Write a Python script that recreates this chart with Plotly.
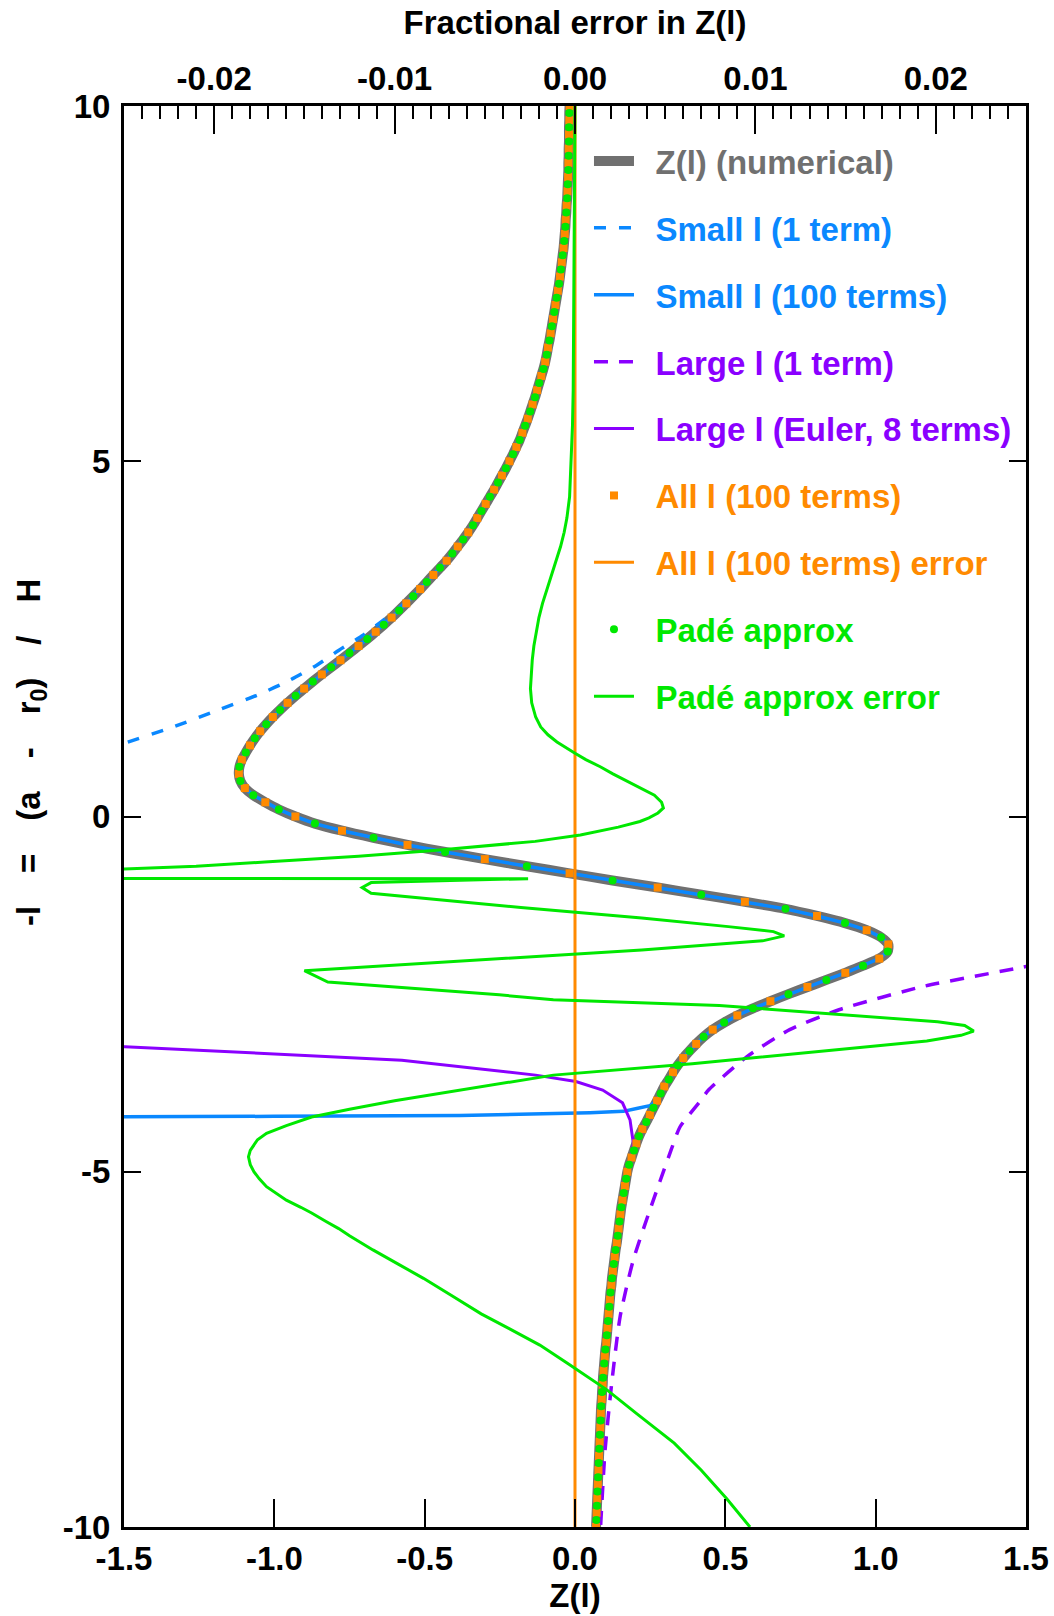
import numpy as np
import plotly.graph_objects as go

# ---------------- data ----------------
# l grid (independent variable, -l on the vertical axis), step 0.1 from 10 to -10
l_grid = np.round(np.arange(100, -101, -1) / 10.0, 1)

# Z(l) numerical at each l of l_grid
z_num = [
    -0.018, -0.019, -0.019, -0.020, -0.020, -0.020, -0.021, -0.021, -0.022, -0.022,
    -0.023, -0.024, -0.025, -0.026, -0.028, -0.029, -0.031, -0.032, -0.034, -0.036,
    -0.038, -0.041, -0.044, -0.047, -0.050, -0.053, -0.057, -0.061, -0.065, -0.069,
    -0.073, -0.077, -0.081, -0.085, -0.090, -0.094, -0.099, -0.105, -0.112, -0.119,
    -0.126, -0.133, -0.141, -0.149, -0.157, -0.166, -0.175, -0.184, -0.195, -0.206,
    -0.218, -0.230, -0.243, -0.256, -0.269, -0.283, -0.297, -0.311, -0.325, -0.339,
    -0.355, -0.372, -0.390, -0.408, -0.427, -0.449, -0.471, -0.493, -0.515, -0.538,
    -0.561, -0.585, -0.610, -0.636, -0.663, -0.691, -0.720, -0.750, -0.780, -0.811,
    -0.842, -0.872, -0.901, -0.929, -0.956, -0.981, -1.005, -1.027, -1.047, -1.065,
    -1.081, -1.095, -1.108, -1.116, -1.118, -1.113, -1.098, -1.070, -1.030, -0.985,
    -0.930, -0.865, -0.775, -0.670, -0.557, -0.432, -0.300, -0.160, -0.018, 0.125,
    0.275, 0.420, 0.565, 0.700, 0.805, 0.898, 0.970, 1.018, 1.042, 1.040,
    1.012, 0.958, 0.899, 0.836, 0.773, 0.710, 0.650, 0.592, 0.540, 0.496,
    0.458, 0.428, 0.403, 0.381, 0.360, 0.342, 0.326, 0.312, 0.297, 0.285,
    0.273, 0.261, 0.249, 0.237, 0.224, 0.213, 0.204, 0.196, 0.188, 0.180,
    0.174, 0.170, 0.166, 0.162, 0.158, 0.154, 0.151, 0.148, 0.145, 0.142,
    0.139, 0.135, 0.132, 0.129, 0.126, 0.123, 0.121, 0.118, 0.116, 0.114,
    0.112, 0.110, 0.108, 0.106, 0.104, 0.101, 0.099, 0.097, 0.095, 0.093,
    0.092, 0.090, 0.089, 0.087, 0.086, 0.085, 0.084, 0.083, 0.082, 0.081,
    0.080, 0.079, 0.078, 0.077, 0.076, 0.075, 0.074, 0.073, 0.072, 0.071,
    0.070,
]
z_num = np.array(z_num)

# "All l (100 terms)" and "Pade approx" sampled on alternate grid points
l_all = l_grid[::2]
z_all = z_num[::2]
l_pade = l_grid[1::2]
z_pade = z_num[1::2]

# Small l (1 term) - departs from the curve near l = 3
l_small1 = [3.5, 3.3, 3.1, 2.9, 2.77, 2.55, 2.34, 2.13, 1.92, 1.72, 1.51, 1.27, 1.03, 0.8]
z_small1 = [-0.449, -0.495, -0.540, -0.595, -0.635, -0.705, -0.785, -0.859, -0.948, -1.05,
            -1.18, -1.33, -1.5, -1.66]

# Small l (100 terms) - follows the curve down to l = -4, then diverges
l_small100_tail = [-4.07, -4.11, -4.15, -4.17, -4.19, -4.21, -4.22, -4.23]
z_small100_tail = [0.249, 0.205, 0.161, 0.05, -0.116, -0.383, -1.0, -2.0]

# Large l (1 term)
l_large1 = [-2.0, -2.12, -2.39, -2.72, -3.0, -3.38, -3.85, -4.01, -4.37, -4.69,
            -5.54, -6.24, -7.04, -7.98, -8.92, -10.0]
z_large1 = [1.62, 1.49, 1.16, 0.878, 0.714, 0.572, 0.444, 0.416, 0.349, 0.32,
            0.249, 0.194, 0.150, 0.122, 0.100, 0.085]

# Large l (Euler, 8 terms) - diverges above l = -4.8
l_euler_head = [-3.15, -3.24, -3.43, -3.64, -3.73, -3.85, -4.03, -4.27, -4.60, -4.8]
z_euler_head = [-2.0, -1.497, -0.576, -0.131, 0.003, 0.092, 0.158, 0.183, 0.194, 0.188]

# All l (100 terms) fractional error
l_all_err = [10.0, -10.0]
e_all_err = [0.0, 0.0]

# Pade approx fractional error
l_pade_err = [10, 9, 8, 7, 6, 5.5, 5.0, 4.5, 4.2, 4.0,
              3.8, 3.6, 3.4, 3.2, 3.0, 2.8, 2.6, 2.4, 2.2, 2.0,
              1.8, 1.6, 1.4, 1.26, 1.15, 1.05, 0.95, 0.89, 0.8, 0.7,
              0.6, 0.51, 0.4, 0.3, 0.2, 0.12, 0.05, -0.02, -0.07, -0.15,
              -0.26, -0.35, -0.47, -0.56, -0.64, -0.70, -0.74, -0.80, -0.875, -0.93,
              -1.0, -1.08, -1.28, -1.43, -1.55, -1.62, -1.68, -1.75, -1.88, -2.0,
              -2.1, -2.17, -2.33, -2.51, -2.58, -2.66, -2.89, -2.94, -3.02, -3.08,
              -3.16, -3.48, -3.64, -3.76, -3.88, -4.0, -4.12, -4.23, -4.35, -4.46,
              -4.55, -4.62, -4.70, -4.79, -4.9, -5.0, -5.1, -5.21, -5.3, -5.4,
              -5.5, -5.58, -5.7, -5.8, -5.9, -6.1, -6.3, -6.5, -6.75, -7.0,
              -7.2, -7.44, -7.7, -8.07, -8.4, -8.82, -9.2, -9.6, -10]
e_pade_err = [0.0, -0.00002, -0.00004, -0.00006, -0.0001, -0.00014, -0.0002, -0.0003, -0.00045, -0.0006,
              -0.0008, -0.00105, -0.0013, -0.00155, -0.0018, -0.0020, -0.00215, -0.00228, -0.00237, -0.00244,
              -0.00247, -0.0024, -0.00218, -0.0019, -0.0015, -0.0010, -0.0004, 0.0, 0.0006, 0.0014,
              0.0021, 0.0028, 0.0037, 0.0044, 0.0048, 0.0049, 0.0046, 0.0041, 0.0036, 0.0024,
              0.0003, -0.0022, -0.0075, -0.0120, -0.0172, -0.0210, -0.0251, -0.6, -0.0026, -0.0113,
              -0.0118, -0.0113, -0.003, 0.0037, 0.0085, 0.0110, 0.0116, 0.0104, 0.0037, -0.0042,
              -0.0105, -0.0150, -0.0137, -0.0042, -0.0012, 0.008, 0.0201, 0.0216, 0.0221, 0.0214,
              0.0195, 0.0065, -0.0012, -0.0042, -0.0072, -0.0100, -0.0125, -0.0146, -0.0160, -0.0171,
              -0.0176, -0.0178, -0.0180, -0.0181, -0.0180, -0.0178, -0.0175, -0.0171, -0.0166, -0.0160,
              -0.0152, -0.0146, -0.0138, -0.0131, -0.0125, -0.0112, -0.0098, -0.0084, -0.0068, -0.0052,
              -0.0037, -0.00195, -0.0004, 0.00177, 0.0034, 0.0055, 0.0070, 0.0084, 0.0097]

x_ticks = [-1.5, -1.0, -0.5, 0.0, 0.5, 1.0, 1.5]
x_ticktext = ["-1.5", "-1.0", "-0.5", "0.0", "0.5", "1.0", "1.5"]
x2_ticks = [-0.02, -0.01, 0.0, 0.01, 0.02]
x2_ticktext = ["-0.02", "-0.01", "0.00", "0.01", "0.02"]
y_ticks = [-10, -5, 0, 5, 10]
y_ticktext = ["-10", "-5", "0", "5", "10"]

# ---------------- style ----------------
GRAY = "#707070"
BLUE = "#0A88FF"
PURPLE = "#8A00FF"
ORANGE = "#FF8A00"
GREEN = "#00E800"
FONT = "Liberation Sans, Arial, Helvetica, sans-serif"
SP = "\u2003"
LEAD = "\u2002"


def lab(text, color):
    return f"{LEAD}<span style='color:{color}'>{text}</span>"


fig = go.Figure()

fig.add_trace(go.Scatter(x=z_num, y=l_grid, mode="lines",
                         line=dict(color=GRAY, width=10, shape="spline", smoothing=0.6),
                         name=lab("Z(l) (numerical)", GRAY), legendgroup="a"))
fig.add_trace(go.Scatter(x=z_small1, y=l_small1, mode="lines",
                         line=dict(color=BLUE, width=3.5, dash="12px,13px", shape="spline",
                                   smoothing=0.6),
                         name=lab("Small l (1 term)", BLUE), legendgroup="b"))
mask_s = l_grid >= -4.0
fig.add_trace(go.Scatter(x=list(z_num[mask_s]) + z_small100_tail,
                         y=list(l_grid[mask_s]) + l_small100_tail, mode="lines",
                         line=dict(color=BLUE, width=3.5),
                         name=lab("Small l (100 terms)", BLUE), legendgroup="c"))
fig.add_trace(go.Scatter(x=z_large1, y=l_large1, mode="lines",
                         line=dict(color=PURPLE, width=3.5, dash="14px,11px", shape="spline",
                                   smoothing=0.6),
                         name=lab("Large l (1 term)", PURPLE), legendgroup="d"))
mask_e = l_grid <= -4.9
fig.add_trace(go.Scatter(x=z_euler_head + list(z_num[mask_e]),
                         y=l_euler_head + list(l_grid[mask_e]), mode="lines",
                         line=dict(color=PURPLE, width=3),
                         name=lab("Large l (Euler, 8 terms)", PURPLE), legendgroup="e"))
fig.add_trace(go.Scatter(x=z_all, y=l_all, mode="markers",
                         marker=dict(color=ORANGE, size=8, symbol="square", line=dict(width=0)),
                         name=lab("All l (100 terms)", ORANGE), legendgroup="f"))
fig.add_trace(go.Scatter(x=e_all_err, y=l_all_err, mode="lines", xaxis="x2",
                         line=dict(color=ORANGE, width=3),
                         name=lab("All l (100 terms) error", ORANGE), legendgroup="g"))
fig.add_trace(go.Scatter(x=z_pade, y=l_pade, mode="markers",
                         marker=dict(color=GREEN, size=8, symbol="circle", line=dict(width=0)),
                         name=lab("Padé approx", GREEN), legendgroup="h"))
fig.add_trace(go.Scatter(x=e_pade_err, y=l_pade_err, mode="lines", xaxis="x2",
                         line=dict(color=GREEN, width=3),
                         name=lab("Padé approx error", GREEN), legendgroup="i"))

axis_common = dict(showgrid=False, zeroline=False, showline=True, linecolor="black",
                   linewidth=3, ticks="inside", tickcolor="black", tickwidth=2,
                   automargin=False)
title_font = dict(family=FONT, size=33, color="black", weight="bold")

fig.update_layout(
    width=1054, height=1616,
    margin=dict(l=124, r=28, t=106, b=89),
    paper_bgcolor="white", plot_bgcolor="white",
    font=dict(family=FONT, size=33, color="black", weight="bold"),
    showlegend=True,
    legend=dict(x=0.5155, y=0.981, xanchor="left", yanchor="top",
                bgcolor="rgba(0,0,0,0)", borderwidth=0, itemwidth=40,
                traceorder="grouped", tracegroupgap=21,
                font=dict(family=FONT, size=33, weight="bold")),
    xaxis=dict(range=[-1.5, 1.5], tickmode="array", tickvals=x_ticks, ticktext=x_ticktext,
               ticklen=28, side="bottom", ticklabelstandoff=0,
               title=dict(text="Z(l)", standoff=7, font=title_font), **axis_common),
    xaxis2=dict(range=[-0.025, 0.025], overlaying="x", side="top", anchor="y",
                tickmode="array", tickvals=x2_ticks, ticktext=x2_ticktext, ticklen=28,
                minor=dict(tickmode="linear", tick0=0, dtick=0.001, ticks="inside",
                           ticklen=13, tickwidth=2, tickcolor="black"),
                ticklabelstandoff=0,
                title=dict(text="Fractional error in Z(l)", standoff=16, font=title_font),
                **axis_common),
    yaxis=dict(range=[-10, 10], tickmode="array", tickvals=y_ticks, ticktext=y_ticktext,
               ticklen=17, mirror="ticks", ticklabelstandoff=4, **axis_common),
    annotations=[dict(text=f"-l{SP}={SP}(a{SP}-{SP}r<sub>0</sub>){SP}/{SP}H",
                      xref="paper", yref="paper", x=-0.103, y=0.5447,
                      xanchor="center", yanchor="middle", textangle=-90,
                      showarrow=False, font=title_font)],
)

fig.write_html("out.html")
